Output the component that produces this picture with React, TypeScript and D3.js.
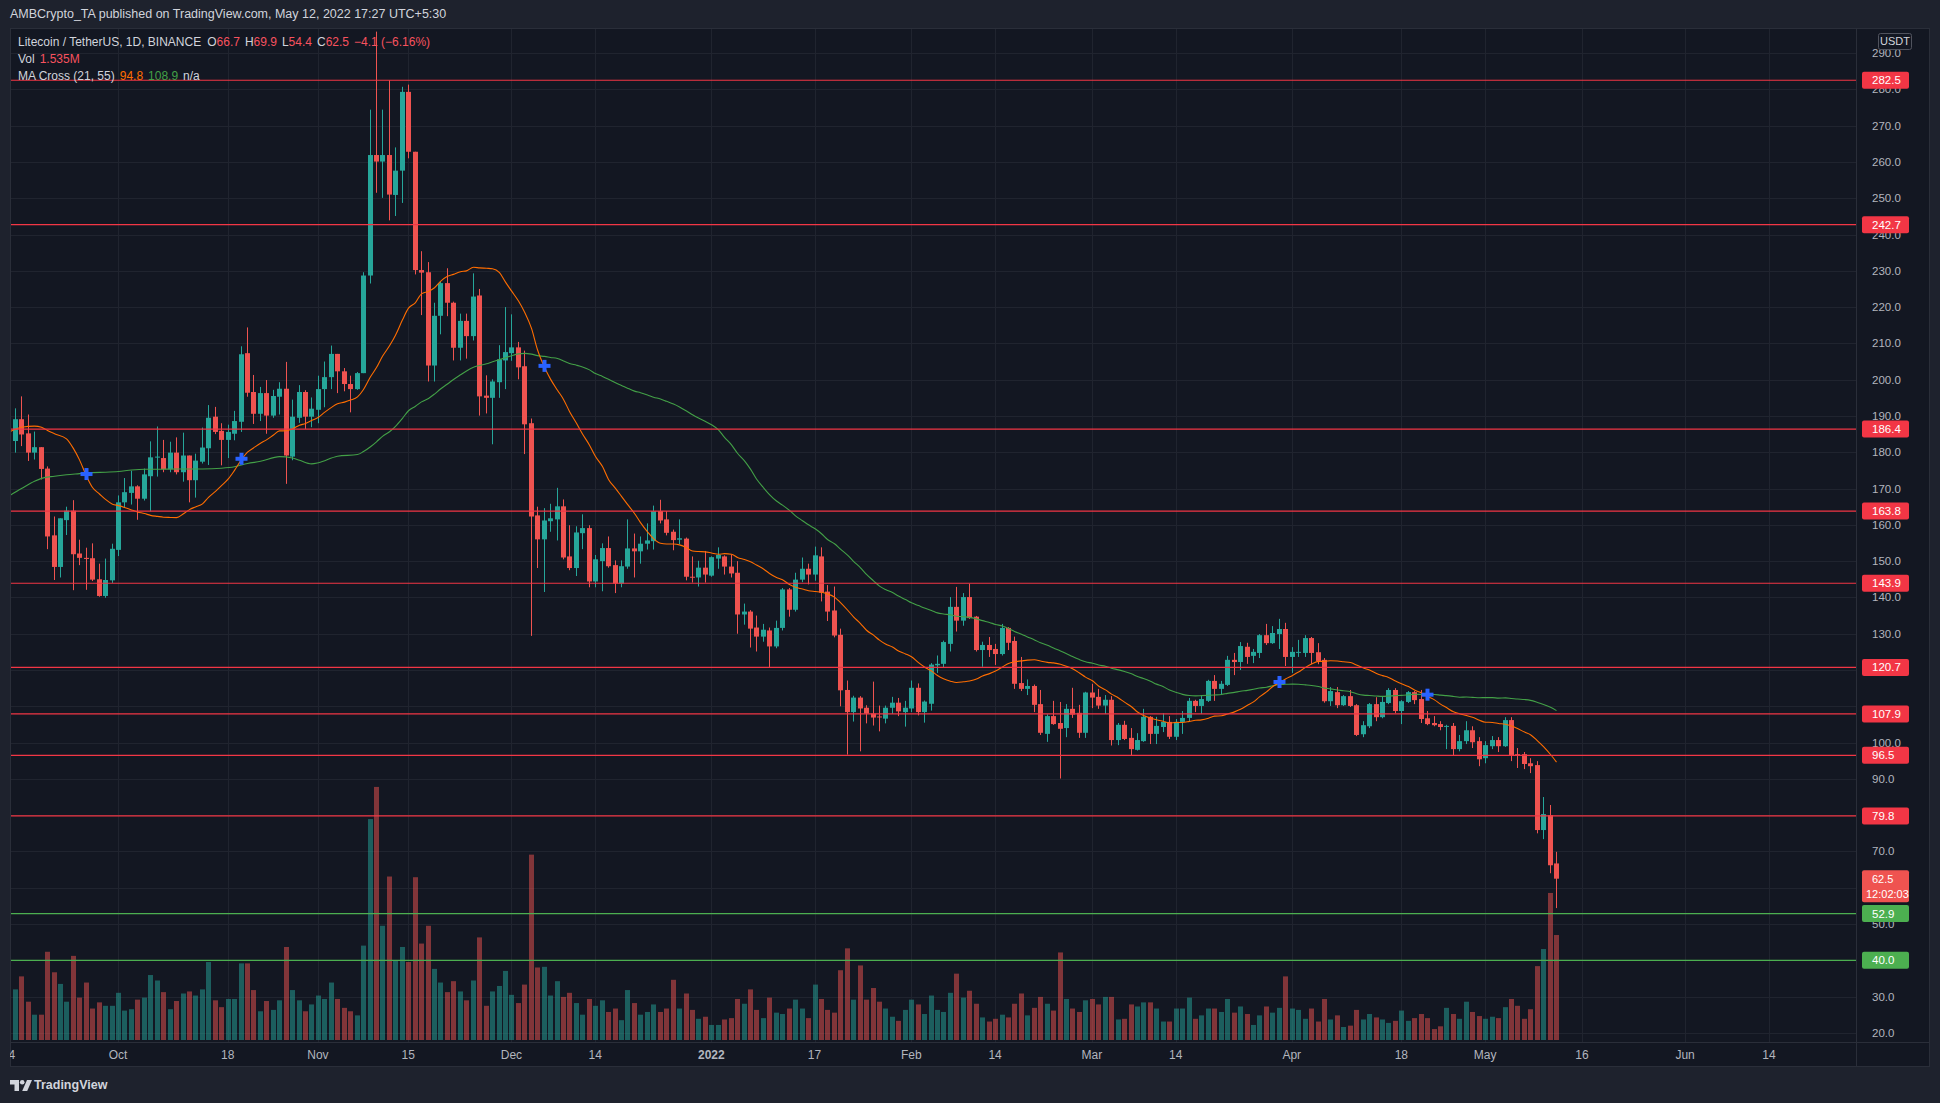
import * as d3 from 'd3';
import React from 'react';

// LTC/USDT daily, first candle 2021-09-14
const startDay = Date.UTC(2021, 8, 14);

const opens = [
  179.3, 183.1, 189.1, 185.2, 179.9, 181.4, 175.5, 157.1, 148.4, 161.3,
  163.9, 152.1, 150.9, 150.8, 145.0, 140.4, 144.7, 153.1, 166.2, 168.8,
  170.6, 167.2, 173.4, 178.6, 178.4, 175.3, 179.9, 174.5, 179.1, 172.3,
  177.4, 181.1, 189.8, 185.9, 183.4, 185.1, 188.4, 207.3, 196.6, 190.6,
  196.3, 190.1, 195.3, 197.5, 178.8, 189.5, 196.6, 189.8, 191.7, 197.4,
  200.7, 207.1, 202.3, 198.8, 197.4, 201.8, 228.7, 261.9, 260.1, 261.9,
  250.9, 257.6, 279.3, 262.8, 230.2, 229.6, 203.9, 217.6, 226.6, 221.2,
  208.8, 216.2, 212.0, 223.2, 195.6, 195.0, 199.3, 205.3, 207.3, 208.9,
  203.7, 188.0, 162.6, 156.0, 161.0, 161.5, 165.1, 151.3, 148.1, 157.7,
  159.1, 144.4, 150.0, 153.6, 148.9, 143.8, 148.5, 153.5, 152.7, 154.8,
  155.5, 163.8, 161.5, 158.1, 155.9, 156.2, 145.7, 145.5, 148.2, 146.0,
  150.7, 151.3, 148.5, 146.8, 135.3, 136.1, 131.7, 129.2, 130.9, 126.5,
  131.6, 142.2, 136.6, 144.9, 147.9, 146.3, 151.3, 141.6, 136.4, 129.7,
  114.5, 108.4, 112.4, 109.6, 108.0, 107.2, 106.6, 109.6, 111.0, 108.4,
  109.4, 115.1, 108.4, 110.7, 121.3, 121.7, 127.2, 137.4, 133.6, 140.1,
  134.7, 125.5, 126.9, 125.8, 124.4, 131.6, 128.0, 116.4, 114.8, 115.6,
  110.6, 102.4, 107.3, 105.4, 104.0, 109.3, 108.2, 102.7, 113.8, 112.6,
  110.2, 111.8, 100.7, 104.9, 101.3, 98.0, 100.4, 107.1, 102.4, 104.3,
  105.7, 101.6, 105.7, 106.8, 111.5, 110.1, 111.5, 117.0, 114.8, 115.9,
  122.8, 122.2, 126.4, 123.9, 124.7, 129.6, 127.4, 129.9, 131.3, 123.6,
  124.9, 124.7, 128.8, 124.9, 122.8, 111.4, 113.9, 110.3, 112.8, 110.3,
  102.3, 104.5, 110.6, 107.0, 110.9, 114.5, 108.7, 111.2, 113.9, 112.0,
  106.7, 105.4, 105.1, 104.4, 104.6, 98.2, 100.4, 103.4, 100.4, 95.7,
  99.0, 100.7, 99.0, 106.2, 96.8, 96.8, 94.3, 93.8, 75.9, 80.0,
  66.7,
];

const highs = [
  184.0, 192.1, 195.4, 190.4, 185.7, 181.4, 176.1, 162.3, 161.8, 165.0,
  166.8, 155.9, 153.7, 154.9, 149.3, 150.7, 154.8, 168.1, 172.9, 174.9,
  170.9, 175.5, 183.0, 187.1, 183.4, 182.9, 184.1, 185.4, 179.1, 179.6,
  186.8, 193.0, 192.5, 188.0, 187.6, 191.4, 209.2, 214.4, 201.3, 198.0,
  199.9, 197.2, 199.3, 204.9, 194.5, 198.5, 197.1, 195.1, 201.1, 205.0,
  209.4, 207.1, 203.2, 201.1, 202.1, 229.6, 274.4, 295.9, 274.4, 282.5,
  264.0, 280.7, 281.3, 262.8, 235.4, 232.4, 221.2, 227.0, 230.7, 221.5,
  218.2, 218.2, 229.3, 225.0, 201.2, 200.1, 209.5, 220.0, 218.0, 210.4,
  208.0, 189.3, 165.0, 164.6, 165.8, 170.2, 167.0, 159.9, 159.6, 162.9,
  159.9, 151.7, 154.9, 156.8, 150.2, 150.2, 161.5, 157.6, 156.8, 160.4,
  165.3, 166.9, 163.8, 158.7, 161.5, 156.5, 151.3, 150.1, 152.8, 151.3,
  153.8, 151.6, 151.8, 150.0, 138.3, 136.5, 135.0, 132.7, 131.7, 133.6,
  142.6, 142.6, 146.8, 151.0, 149.3, 154.0, 153.8, 143.4, 143.0, 131.4,
  117.1, 112.9, 112.8, 110.3, 116.8, 110.2, 110.2, 112.6, 112.3, 111.5,
  117.1, 116.3, 111.6, 121.9, 124.0, 128.1, 140.1, 142.9, 141.2, 143.8,
  134.9, 127.8, 129.1, 127.2, 132.7, 131.8, 129.2, 123.6, 117.4, 116.0,
  114.5, 107.8, 111.5, 111.2, 110.6, 115.1, 110.4, 114.0, 116.2, 114.8,
  113.1, 112.8, 105.4, 106.0, 104.0, 102.6, 109.3, 107.3, 107.1, 108.1,
  107.3, 106.5, 108.7, 112.3, 111.8, 113.0, 117.3, 118.6, 117.0, 123.9,
  124.7, 127.7, 127.5, 125.8, 129.9, 132.7, 132.1, 134.1, 133.0, 126.3,
  128.3, 129.6, 129.1, 127.4, 123.3, 115.3, 115.3, 113.1, 114.5, 110.6,
  105.9, 110.9, 112.5, 112.8, 115.0, 115.0, 111.7, 114.2, 114.2, 114.5,
  108.7, 107.3, 105.9, 104.9, 105.4, 102.1, 105.9, 104.5, 101.5, 100.4,
  101.8, 101.5, 107.0, 107.0, 98.5, 97.4, 95.7, 94.9, 85.0, 82.8,
  69.9,
];

const lows = [
  178.0, 179.9, 181.7, 177.6, 178.0, 172.5, 153.3, 144.8, 145.5, 157.2,
  142.0, 148.9, 142.1, 144.5, 140.2, 139.9, 144.0, 151.4, 164.8, 165.6,
  161.4, 166.7, 163.7, 173.3, 174.5, 174.5, 173.9, 171.9, 166.2, 167.5,
  176.9, 176.5, 185.0, 176.4, 178.4, 183.3, 185.6, 195.3, 187.8, 188.6,
  185.1, 189.5, 190.4, 171.3, 177.8, 188.1, 186.4, 186.9, 188.0, 192.4,
  197.4, 196.3, 196.8, 191.0, 197.2, 201.8, 226.5, 251.5, 250.1, 243.9,
  245.1, 248.7, 261.0, 229.0, 217.8, 199.5, 199.5, 212.5, 217.5, 205.3,
  205.3, 205.8, 210.8, 190.1, 190.7, 182.2, 195.0, 197.4, 205.2, 200.1,
  179.5, 129.4, 148.1, 141.5, 158.1, 155.7, 150.5, 147.5, 145.9, 153.3,
  142.8, 142.8, 141.7, 148.2, 141.2, 142.8, 147.9, 145.5, 149.3, 153.2,
  153.2, 160.4, 157.1, 153.0, 154.7, 144.7, 144.1, 143.0, 144.1, 145.7,
  147.9, 146.3, 145.5, 130.0, 132.5, 126.2, 125.1, 127.8, 120.8, 126.0,
  130.9, 134.7, 136.1, 144.2, 143.6, 144.6, 138.9, 133.5, 129.0, 110.0,
  96.7, 105.8, 97.6, 105.3, 104.7, 103.1, 105.3, 107.9, 107.3, 104.4,
  108.4, 107.5, 105.5, 108.8, 119.2, 120.7, 125.1, 130.6, 132.2, 134.1,
  125.1, 120.9, 123.6, 121.4, 124.0, 125.5, 114.8, 114.2, 113.1, 108.4,
  102.1, 100.2, 104.9, 90.1, 101.5, 106.8, 101.3, 101.3, 109.5, 109.3,
  107.9, 99.2, 99.3, 100.7, 96.5, 97.8, 100.2, 99.6, 99.6, 102.9,
  101.0, 100.7, 102.4, 105.7, 108.4, 107.9, 111.2, 111.5, 113.1, 115.6,
  118.6, 120.0, 121.7, 121.9, 123.3, 126.9, 127.2, 125.8, 121.1, 119.2,
  123.6, 123.6, 121.6, 121.6, 111.0, 110.1, 109.5, 110.1, 109.8, 101.8,
  101.5, 104.0, 105.9, 106.7, 110.6, 108.1, 105.1, 110.9, 110.6, 105.4,
  104.8, 104.5, 103.4, 98.2, 96.5, 97.6, 99.6, 98.5, 93.5, 94.3,
  98.2, 97.4, 98.8, 94.9, 93.0, 92.7, 91.6, 75.0, 73.4, 64.0,
  54.4,
];

const closes = [
  183.1, 189.1, 184.9, 179.9, 181.4, 175.4, 156.8, 148.4, 161.8, 163.9,
  151.9, 150.9, 150.6, 144.9, 140.4, 144.8, 153.4, 166.2, 169.0, 170.6,
  167.2, 173.9, 178.6, 178.8, 175.3, 179.9, 174.5, 179.1, 172.3, 177.7,
  181.3, 189.5, 185.6, 183.4, 185.6, 188.6, 207.0, 196.4, 190.6, 196.3,
  190.1, 195.5, 197.5, 179.1, 189.8, 196.6, 189.8, 192.0, 197.4, 200.7,
  207.1, 202.3, 198.8, 197.4, 201.8, 228.7, 261.9, 260.1, 261.9, 251.0,
  257.6, 279.3, 262.8, 230.2, 229.5, 203.9, 217.6, 226.6, 221.2, 208.8,
  216.2, 212.0, 222.9, 195.4, 195.0, 199.5, 205.6, 207.6, 208.9, 203.4,
  187.7, 162.3, 156.0, 161.2, 161.8, 165.1, 151.0, 148.1, 157.9, 159.1,
  144.4, 150.5, 153.6, 148.6, 143.8, 148.6, 153.5, 152.7, 154.8, 155.7,
  163.8, 161.2, 157.8, 155.8, 156.3, 145.7, 145.5, 148.2, 146.3, 151.1,
  151.7, 148.5, 146.6, 135.3, 136.1, 131.4, 129.2, 131.1, 126.5, 131.6,
  142.2, 136.6, 144.9, 147.9, 146.3, 151.6, 141.3, 136.1, 129.5, 114.4,
  108.4, 112.4, 109.4, 108.0, 106.9, 107.0, 109.6, 111.0, 108.6, 109.6,
  115.1, 108.4, 111.3, 121.5, 121.7, 127.7, 137.4, 133.6, 140.1, 134.3,
  125.5, 126.9, 125.5, 124.4, 131.6, 127.5, 116.2, 114.8, 115.6, 110.4,
  102.7, 107.3, 105.1, 103.8, 109.3, 107.7, 102.7, 113.8, 112.4, 110.2,
  111.8, 100.7, 104.9, 101.0, 98.2, 100.7, 107.1, 102.4, 104.6, 105.7,
  101.6, 105.7, 106.8, 111.5, 110.1, 112.0, 117.0, 114.8, 116.2, 122.8,
  122.2, 126.6, 123.6, 125.0, 129.6, 127.4, 130.2, 131.3, 123.6, 125.0,
  125.0, 128.8, 124.7, 122.5, 111.4, 114.2, 110.3, 112.8, 110.1, 102.1,
  104.8, 110.6, 107.0, 111.2, 114.5, 108.7, 111.4, 113.9, 111.7, 106.5,
  105.1, 104.8, 104.3, 104.6, 98.2, 100.4, 103.4, 100.1, 95.4, 99.3,
  100.7, 99.0, 106.2, 96.5, 96.5, 94.1, 93.5, 75.9, 80.3, 66.2,
  62.5,
];

// millions of LTC
const volumes = [
  1.09, 0.74, 0.93, 0.56, 0.37, 0.37, 1.29, 0.99, 0.82, 0.56,
  1.23, 0.62, 0.84, 0.46, 0.55, 0.50, 0.50, 0.69, 0.43, 0.45,
  0.59, 0.62, 0.95, 0.87, 0.70, 0.45, 0.57, 0.68, 0.71, 0.65,
  0.74, 1.14, 0.58, 0.48, 0.60, 0.60, 1.12, 1.12, 0.73, 0.42,
  0.57, 0.44, 0.58, 1.36, 0.73, 0.58, 0.42, 0.52, 0.65, 0.60,
  0.84, 0.60, 0.47, 0.42, 0.36, 1.38, 3.23, 3.70, 1.67, 2.39,
  1.17, 1.36, 1.14, 2.38, 1.41, 1.67, 1.04, 0.84, 0.70, 0.86,
  0.71, 0.58, 0.87, 1.50, 0.50, 0.71, 0.79, 1.01, 0.66, 0.54,
  0.81, 2.71, 1.06, 1.07, 0.65, 0.86, 0.63, 0.69, 0.54, 0.37,
  0.60, 0.50, 0.58, 0.41, 0.46, 0.29, 0.73, 0.54, 0.37, 0.41,
  0.52, 0.41, 0.46, 0.88, 0.46, 0.68, 0.44, 0.31, 0.34, 0.22,
  0.22, 0.30, 0.32, 0.60, 0.53, 0.74, 0.44, 0.32, 0.62, 0.40,
  0.38, 0.46, 0.59, 0.46, 0.32, 0.81, 0.60, 0.44, 0.40, 1.02,
  1.34, 0.59, 1.09, 0.59, 0.76, 0.56, 0.46, 0.34, 0.28, 0.44,
  0.59, 0.52, 0.38, 0.65, 0.44, 0.41, 0.69, 0.97, 0.62, 0.72,
  0.53, 0.33, 0.27, 0.31, 0.37, 0.33, 0.53, 0.68, 0.36, 0.47,
  0.63, 0.53, 0.43, 1.28, 0.60, 0.46, 0.41, 0.58, 0.60, 0.52,
  0.63, 0.63, 0.30, 0.31, 0.52, 0.49, 0.55, 0.55, 0.46, 0.27,
  0.27, 0.46, 0.46, 0.62, 0.31, 0.36, 0.46, 0.46, 0.41, 0.60,
  0.40, 0.49, 0.38, 0.22, 0.36, 0.49, 0.40, 0.47, 0.93, 0.46,
  0.44, 0.31, 0.46, 0.27, 0.60, 0.30, 0.36, 0.19, 0.21, 0.44,
  0.30, 0.38, 0.33, 0.30, 0.25, 0.28, 0.43, 0.28, 0.32, 0.38,
  0.32, 0.16, 0.20, 0.47, 0.38, 0.31, 0.56, 0.41, 0.35, 0.31,
  0.34, 0.32, 0.48, 0.60, 0.50, 0.31, 0.45, 1.08, 1.33, 2.15,
  1.535,
];

const ma21Head: [number, number][] = [
  [0, 185.5], [2, 186.9], [4, 187.2], [5, 186.9], [6, 186.0], [7, 185.1],
  [9, 183.7], [10, 181.0], [11, 177.9], [12, 173.4], [13, 170.3], [14, 168.5],
  [15, 167.0], [16, 165.7], [17, 165.3], [18, 164.8], [19, 164.1],
];
const ma55Head: [number, number][] = [
  [0, 167.9], [2, 170.0], [4, 172.0], [5, 172.8], [7, 173.4], [9, 173.8],
  [11, 174.1], [13, 174.4], [15, 174.5], [17, 174.7], [19, 175.1], [21, 175.3],
  [23, 175.3], [26, 175.4], [30, 175.4], [33, 175.6], [35, 176.0], [37, 176.9],
  [39, 177.5], [42, 178.8], [44, 178.4], [45, 177.8], [47, 176.8], [48, 177.1],
  [51, 178.9],
];

const crossIdx = [12, 36, 83, 197, 220];
const crossVal = [174.0, 178.2, 203.8, 116.7, 113.2];

const redLevels = [282.5, 242.7, 186.4, 163.8, 143.9, 120.7, 107.9, 96.5, 79.8];
const greenLevels = [52.9, 40.0];

const priceTicks = [
  20, 30, 40, 50, 60, 70, 80, 90, 100, 110, 120, 130, 140, 150,
  160, 170, 180, 190, 200, 210, 220, 230, 240, 250, 260, 270, 280, 290,
];

const timeTickDates = [
  '2021-09-14', '2021-10-01', '2021-10-18', '2021-11-01', '2021-11-15',
  '2021-12-01', '2021-12-14', '2022-01-01', '2022-01-17', '2022-02-01',
  '2022-02-14', '2022-03-01', '2022-03-14', '2022-04-01', '2022-04-18',
  '2022-05-01', '2022-05-16', '2022-06-01', '2022-06-14',
];
const timeTickLabels = [
  '14', 'Oct', '18', 'Nov', '15', 'Dec', '14', '2022', '17', 'Feb',
  '14', 'Mar', '14', 'Apr', '18', 'May', '16', 'Jun', '14',
];

const W = 1940;
const H = 1103;
const PANEL_L = 10;
const PANEL_T = 28;
const PANEL_R = 1930;
const PANEL_B = 1067;
const PLOT_R = 1856;
const PLOT_B = 1042;

const UP = '#26a69a';
const DOWN = '#ef5350';
const LEVEL_RED = '#f23645';
const LEVEL_GREEN = '#4caf50';
const FONT = '"Liberation Sans", Arial, sans-serif';

const sma = (period: number, head: [number, number][]) => {
  const pts: [number, number][] = head.slice();
  for (let i = period - 1; i < closes.length; i++) {
    pts.push([i, d3.mean(closes.slice(i - period + 1, i + 1)) as number]);
  }
  return pts;
};

const App: React.FC = () => {
  const x = d3.scaleLinear().domain([0, 286.5]).range([8.4, PLOT_R]);
  const y = d3.scaleLinear().domain([17.5, 296.9]).range([PLOT_B, PANEL_T]);
  const yVol = d3.scaleLinear().domain([0, 4]).range([1040, 1040 - 4 * 68.4]);
  const fmt = d3.format('.1f');

  const dayIndex = (s: string) => d3.utcDay.count(new Date(startDay), new Date(s + 'T00:00:00Z'));

  const line = d3.line<[number, number]>()
    .x(d => Math.round(x(d[0])) + 0.5)
    .y(d => y(d[1]))
    .curve(d3.curveMonotoneX);

  const ma21 = sma(21, ma21Head);
  const ma55Pts = sma(55, ma55Head).filter(p => p[0] <= 51 || p[0] >= 54);

  const last = closes[closes.length - 1];
  const lastY = y(last);

  // tick labels that sit under a price badge are hidden, as on the chart
  const badgeYs = redLevels.concat(greenLevels).map(p => y(p));
  const visibleTicks = priceTicks.filter(p => {
    const ty = y(p);
    if (badgeYs.some(by => Math.abs(by - ty) < 8)) return false;
    if (ty > lastY - 10 && ty < lastY + 26) return false;
    return true;
  });

  const badge = (p: number, color: string, key: string) => (
    <g key={key}>
      <rect x={1862} y={y(p) - 8.5} width={47} height={17} rx={2} fill={color} />
      <text x={1872} y={y(p) + 4} fill="#ffffff" fontSize={11.5}>{fmt(p)}</text>
    </g>
  );

  return (
    <svg
      width={W}
      height={H}
      style={{ position: 'fixed', left: 0, top: 0, display: 'block' }}
      fontFamily={FONT}
    >
      <defs>
        <clipPath id="plot">
          <rect x={PANEL_L} y={PANEL_T} width={PLOT_R - PANEL_L} height={PLOT_B - PANEL_T} />
        </clipPath>
        <clipPath id="timeaxis">
          <rect x={PANEL_L} y={PLOT_B} width={PLOT_R - PANEL_L} height={PANEL_B - PLOT_B} />
        </clipPath>
      </defs>

      <rect width={W} height={H} fill="#1e222d" />
      <rect x={PANEL_L} y={PANEL_T} width={PANEL_R - PANEL_L} height={PANEL_B - PANEL_T} fill="#131722" />

      <text x={10} y={17.5} fill="#d1d4dc" fontSize={12.5}>
        AMBCrypto_TA published on TradingView.com, May 12, 2022 17:27 UTC+5:30
      </text>

      <g clipPath="url(#plot)">
        {priceTicks.map(p => (
          <line key={'gh' + p} x1={PANEL_L} x2={PLOT_R} y1={Math.round(y(p)) + 0.5} y2={Math.round(y(p)) + 0.5}
            stroke="#20242f" />
        ))}
        {timeTickDates.map(d => {
          const xx = Math.round(x(dayIndex(d))) + 0.5;
          return <line key={'gv' + d} x1={xx} x2={xx} y1={PANEL_T} y2={PLOT_B} stroke="#20242f" />;
        })}

        {volumes.map((v, i) => (
          <rect key={'v' + i} x={Math.round(x(i)) - 2} y={yVol(v)} width={5} height={yVol(0) - yVol(v)}
            fill={closes[i] >= opens[i] ? UP : DOWN} fillOpacity={0.5} />
        ))}

        {closes.map((c, i) => {
          const o = opens[i];
          const col = c >= o ? UP : DOWN;
          const cx = Math.round(x(i));
          const top = y(Math.max(o, c));
          const bh = Math.max(1, y(Math.min(o, c)) - top);
          return (
            <g key={'c' + i} fill={col}>
              <rect x={cx} y={y(highs[i])} width={1} height={y(lows[i]) - y(highs[i])} />
              <rect x={cx - 2} y={top} width={5} height={bh} />
            </g>
          );
        })}

        <path d={line(ma55Pts) ?? ''} fill="none" stroke="#43a047" strokeWidth={1.1} />
        <path d={line(ma21) ?? ''} fill="none" stroke="#ff6d00" strokeWidth={1.1} />

        {redLevels.map(p => (
          <line key={'r' + p} x1={PANEL_L} x2={PLOT_R} y1={y(p)} y2={y(p)} stroke={LEVEL_RED} strokeWidth={1.2} />
        ))}
        {greenLevels.map(p => (
          <line key={'g' + p} x1={PANEL_L} x2={PLOT_R} y1={y(p)} y2={y(p)} stroke={LEVEL_GREEN} strokeWidth={1.2} />
        ))}

        {crossIdx.map((ci, k) => {
          const cx = Math.round(x(ci)) + 0.5;
          const cy = y(crossVal[k]);
          return (
            <g key={'x' + ci} fill="#2962ff">
              <rect x={cx - 6} y={cy - 2} width={12} height={4} />
              <rect x={cx - 2} y={cy - 6} width={4} height={12} />
            </g>
          );
        })}
      </g>

      {/* legend */}
      <g fontSize={12}>
        <text x={18} y={45.5} fill="#d1d4dc">
          Litecoin / TetherUS, 1D, BINANCE
          <tspan dx={6}>O</tspan><tspan fill="#f7525f">66.7</tspan>
          <tspan dx={5}>H</tspan><tspan fill="#f7525f">69.9</tspan>
          <tspan dx={5}>L</tspan><tspan fill="#f7525f">54.4</tspan>
          <tspan dx={5}>C</tspan><tspan fill="#f7525f">62.5</tspan>
          <tspan dx={5} fill="#f7525f">−4.1 (−6.16%)</tspan>
        </text>
        <text x={18} y={62.5} fill="#d1d4dc">
          Vol<tspan dx={5} fill="#f7525f">1.535M</tspan>
        </text>
        <text x={18} y={79.5} fill="#d1d4dc">
          MA Cross (21, 55)<tspan dx={5} fill="#ff6d00">94.8</tspan>
          <tspan dx={5} fill="#43a047">108.9</tspan>
          <tspan dx={5}>n/a</tspan>
        </text>
      </g>

      {/* axes frame */}
      <line x1={PLOT_R + 0.5} x2={PLOT_R + 0.5} y1={PANEL_T} y2={PANEL_B} stroke="#2a2e39" />
      <line x1={PANEL_L} x2={PANEL_R} y1={PLOT_B + 0.5} y2={PLOT_B + 0.5} stroke="#2a2e39" />
      <rect x={PANEL_L + 0.5} y={PANEL_T + 0.5} width={PANEL_R - PANEL_L - 1} height={PANEL_B - PANEL_T - 1}
        fill="none" stroke="#2a2e39" />

      <g fontSize={11.5} fill="#b2b5be">
        {visibleTicks.map(p => (
          <text key={'t' + p} x={1872} y={y(p) + 4}>{fmt(p)}</text>
        ))}
      </g>

      {redLevels.map(p => badge(p, LEVEL_RED, 'b' + p))}
      {greenLevels.map(p => badge(p, LEVEL_GREEN, 'bg' + p))}

      <g>
        <rect x={1862} y={lastY - 8.5} width={47} height={32} rx={2} fill={DOWN} />
        <text x={1872} y={lastY + 4} fill="#ffffff" fontSize={11}>{fmt(last)}</text>
        <text x={1866} y={lastY + 19.5} fill="#ffffff" fontSize={11}>12:02:03</text>
      </g>

      <rect x={1878.5} y={33.5} width={33} height={16} rx={2} fill="#131722" stroke="#50535e" />
      <text x={1895} y={45} fill="#d1d4dc" fontSize={11} textAnchor="middle">USDT</text>

      <g clipPath="url(#timeaxis)" fontSize={12} fill="#b2b5be" textAnchor="middle">
        {timeTickDates.map((d, k) => (
          <text key={'tl' + d} x={x(dayIndex(d))} y={1058.5}
            fontWeight={timeTickLabels[k] === '2022' ? 'bold' : 'normal'}>
            {timeTickLabels[k]}
          </text>
        ))}
      </g>

      {/* TradingView mark */}
      <g fill="#d1d4dc" transform="translate(10,1080)">
        <path d="M0 0 H9 V11 H4.5 V4.5 H0 Z" />
        <circle cx={12.2} cy={2.3} r={2.3} />
        <path d="M17 0 H22 L17.2 11 H12.2 Z" />
      </g>
      <text x={34} y={1089} fill="#d1d4dc" fontSize={12.5} fontWeight="bold">TradingView</text>
    </svg>
  );
};

export default App;
